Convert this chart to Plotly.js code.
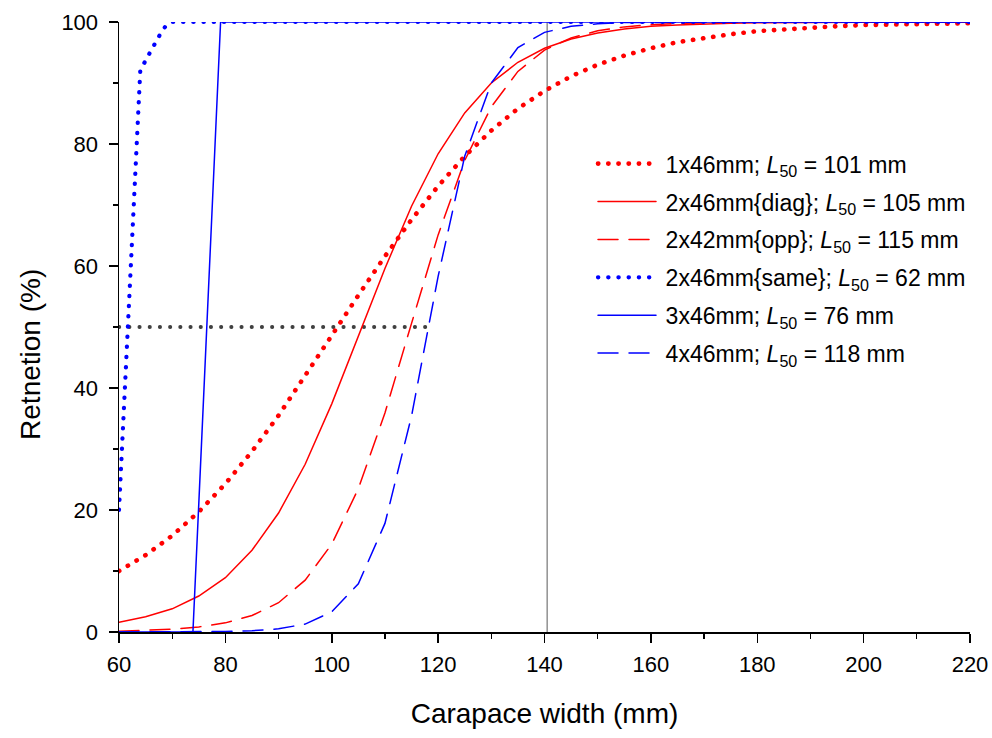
<!DOCTYPE html>
<html>
<head>
<meta charset="utf-8">
<script src="https://cdn.plot.ly/plotly-3.0.1.min.js"></script>
<style>
  html, body { margin: 0; padding: 0; background: #fff; }
  #chart { width: 992px; height: 738px; }
  path.js-line { stroke-linecap: round !important; }
</style>
</head>
<body>
<div id="chart"></div>
<script>
// ---- Data ----
const gridX = [60,65,70,75,80,85,90,95,100,105,110,115,120,125,130,135,140,145,150,155,160,165,170,175,180,185,190,195,200,205,210,215,220];

const names = [
  '1x46mm; <i>L</i><sub>50</sub> = 101 mm',
  '2x46mm{diag}; <i>L</i><sub>50</sub> = 105 mm',
  '2x42mm{opp}; <i>L</i><sub>50</sub> = 115 mm',
  '2x46mm{same}; <i>L</i><sub>50</sub> = 62 mm',
  '3x46mm; <i>L</i><sub>50</sub> = 76 mm',
  '4x46mm; <i>L</i><sub>50</sub> = 118 mm'
];

const ret1x46 = [10.0,12.6,15.8,19.7,24.3,29.6,35.5,41.9,48.6,55.2,61.6,67.6,73.1,78.0,82.2,85.8,88.7,91.1,93.0,94.5,95.7,96.7,97.4,98.0,98.5,98.8,99.1,99.3,99.5,99.6,99.7,99.75,99.8];
const ret2x46diag = [1.6,2.5,3.8,5.9,8.9,13.4,19.5,27.5,37.4,48.4,59.6,69.8,78.4,85.1,90.0,93.4,95.7,97.2,98.2,98.85,99.3,99.5,99.7,99.8,99.88,99.92,99.95,99.97,99.98,99.99,100,100,100];
const ret2x42opp = [0.14,0.25,0.46,0.83,1.5,2.7,4.8,8.5,14.4,23.5,35.9,50.6,65.1,77.3,86.1,91.9,95.4,97.4,98.55,99.2,99.56,99.76,99.87,99.93,99.96,99.98,99.99,100,100,100,100,100,100];
const ret4x46 = [0,0.01,0.01,0.03,0.08,0.21,0.52,1.3,3.3,7.9,17.8,35.4,58.3,78.0,90.0,95.8,98.3,99.3,99.7,99.9,99.96,99.98,99.99,100,100,100,100,100,100,100,100,100,100];

const sameX = [60,61,62,63,64,65,66,67,68,69,70,220];
const ret2x46same = [20,38,56,74,92,93.7,95.3,96.8,98.4,99.6,100,100];

const x3x46 = [60,73.9,75,76,77,78,79.1,220];
const ret3x46 = [0,0,21,40,60,79,100,100];

const refHX = [60,118], refHY = [50,50];
const refVX = [140.5,140.5], refVY = [0,100];

const xTitle = 'Carapace width (mm)';
const yTitle = 'Retnetion (%)';

// ---- Styles ----
const RED = '#ff0000', BLUE = '#0000ff';
const DOT = '0.3px,9.9px';
const DASH = '20px,11px';
const GAP = '\u2009';

const traces = [
  {x: refHX, y: refHY, showlegend: false, hoverinfo: 'skip',
   line: {color: '#404040', width: 3.8, dash: DOT}},
  {x: refVX, y: refVY, showlegend: false, hoverinfo: 'skip',
   line: {color: '#808080', width: 1.3}},
  {x: gridX, y: ret1x46, name: GAP + names[0], legendgroup: 'a', line: {color: RED, width: 4.6, dash: DOT}},
  {x: gridX, y: ret2x46diag, name: GAP + names[1], legendgroup: 'b', line: {color: RED, width: 1.5}},
  {x: gridX, y: ret2x42opp, name: GAP + names[2], legendgroup: 'c', line: {color: RED, width: 1.5, dash: DASH}},
  {x: sameX, y: ret2x46same, name: GAP + names[3], legendgroup: 'd', line: {color: BLUE, width: 4.2, dash: DOT}},
  {x: x3x46, y: ret3x46, name: GAP + names[4], legendgroup: 'e', line: {color: BLUE, width: 1.5}},
  {x: gridX, y: ret4x46, name: GAP + names[5], legendgroup: 'f', line: {color: BLUE, width: 1.5, dash: DASH}}
];
traces.forEach(t => { t.type = 'scatter'; t.mode = 'lines'; t.cliponaxis = false; });

const FONT = 'Liberation Sans, Arial, sans-serif';

const layout = {
  width: 992, height: 738,
  margin: {l: 118.5, r: 22, t: 22.3, b: 105.7, pad: 0},
  paper_bgcolor: '#fff', plot_bgcolor: '#fff',
  font: {family: FONT, color: '#000', size: 22},
  showlegend: true,
  legend: {
    x: 0.557, y: 0.803, xanchor: 'left', yanchor: 'top',
    bgcolor: 'rgba(0,0,0,0)', borderwidth: 0,
    font: {family: FONT, size: 23, color: '#000'},
    itemwidth: 58, tracegroupgap: 5, traceorder: 'grouped'
  },
  xaxis: {
    range: [60, 220], showgrid: false, zeroline: false,
    showline: true, linecolor: '#000', linewidth: 1.5,
    ticks: 'outside', ticklen: 9, tickwidth: 1.5, tickcolor: '#000',
    tick0: 60, dtick: 20, tickfont: {size: 22}, ticklabelstandoff: 3,
    minor: {ticks: 'outside', ticklen: 5, tickwidth: 1.2, tickcolor: '#000', dtick: 10, showgrid: false},
    title: {text: xTitle, font: {size: 28}, standoff: 27}
  },
  yaxis: {
    range: [0, 100], showgrid: false, zeroline: false,
    showline: true, linecolor: '#000', linewidth: 1.5,
    ticks: 'outside', ticklen: 9, tickwidth: 1.5, tickcolor: '#000',
    tick0: 0, dtick: 20, tickfont: {size: 22}, ticklabelstandoff: 6,
    minor: {ticks: 'outside', ticklen: 5, tickwidth: 1.2, tickcolor: '#000', dtick: 10, showgrid: false}
  },
  annotations: [{
    text: yTitle, xref: 'paper', yref: 'paper', x: -0.104, y: 0.455,
    xanchor: 'center', yanchor: 'middle', textangle: -90, showarrow: false,
    font: {family: FONT, size: 28, color: '#000'}
  }]
};

Plotly.newPlot('chart', traces, layout, {displayModeBar: false, staticPlot: true});
</script>
</body>
</html>
